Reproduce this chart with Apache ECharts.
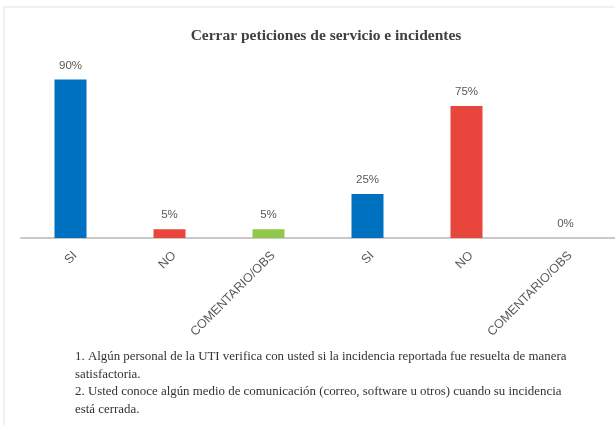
<!DOCTYPE html>
<html>
<head>
<meta charset="utf-8">
<script src="https://cdn.jsdelivr.net/npm/echarts@6/dist/echarts.min.js"></script>
<style>
  html, body { margin: 0; padding: 0; background: #ffffff; }
  #chart { width: 615px; height: 425px; }
</style>
</head>
<body>
<div id="chart"></div>
<script>
// Survey answers for the two questions, shown side by side
const categories = ['SI', 'NO', 'COMENTARIO/OBS', 'SI', 'NO', 'COMENTARIO/OBS'];
const percentages = [90, 5, 5, 25, 75, 0];
const answerColors = ['#0070C0', '#E8453C', '#92C84A', '#0070C0', '#E8453C', '#92C84A'];

const chartTitle = 'Cerrar peticiones de servicio e incidentes';
const notes = [
  '1. Algún personal de la UTI verifica con usted si la incidencia reportada fue resuelta de manera',
  'satisfactoria.',
  '2. Usted conoce algún medio de comunicación (correo, software u otros) cuando su incidencia',
  'está cerrada.'
];

const chart = echarts.init(document.getElementById('chart'), null, { renderer: 'canvas' });

chart.setOption({
  backgroundColor: '#ffffff',
  animation: false,
  title: [
    {
      text: chartTitle,
      left: 321,
      top: 23,
      textAlign: 'center',
      textStyle: {
        fontFamily: 'Liberation Serif',
        fontSize: 15.5,
        fontWeight: 'bold',
        color: '#404040'
      }
    },
    {
      text: notes.join('\n'),
      left: 70,
      top: 343,
      textStyle: {
        fontFamily: 'Liberation Serif',
        fontSize: 12.9,
        fontWeight: 'normal',
        color: '#333333',
        lineHeight: 17.5
      }
    }
  ],
  graphic: [
    {
      type: 'rect',
      shape: { x: 4, y: 7, width: 700, height: 500 },
      style: { fill: 'none', stroke: '#ececec', lineWidth: 1.5 },
      silent: true
    }
  ],
  grid: { left: 21, top: 62, width: 601, height: 176, containLabel: false },
  xAxis: {
    type: 'category',
    data: categories,
    boundaryGap: true,
    axisLine: { show: true, lineStyle: { color: '#c8c8c8', width: 2 } },
    axisTick: { show: false },
    axisLabel: {
      rotate: 45,
      interval: 0,
      margin: 11,
      verticalAlign: 'top',
      fontFamily: 'Liberation Sans',
      fontSize: 12.5,
      color: '#595959'
    }
  },
  yAxis: {
    type: 'value',
    min: 0,
    max: 100,
    show: false,
    splitLine: { show: false }
  },
  series: [
    {
      type: 'bar',
      barWidth: 32,
      data: percentages.map((v, i) => ({ value: v, itemStyle: { color: answerColors[i] } })),
      label: {
        show: true,
        position: 'top',
        distance: 8,
        formatter: (p) => p.value + '%',
        fontFamily: 'Liberation Sans',
        fontSize: 11.5,
        color: '#595959'
      }
    }
  ]
});
</script>
</body>
</html>
